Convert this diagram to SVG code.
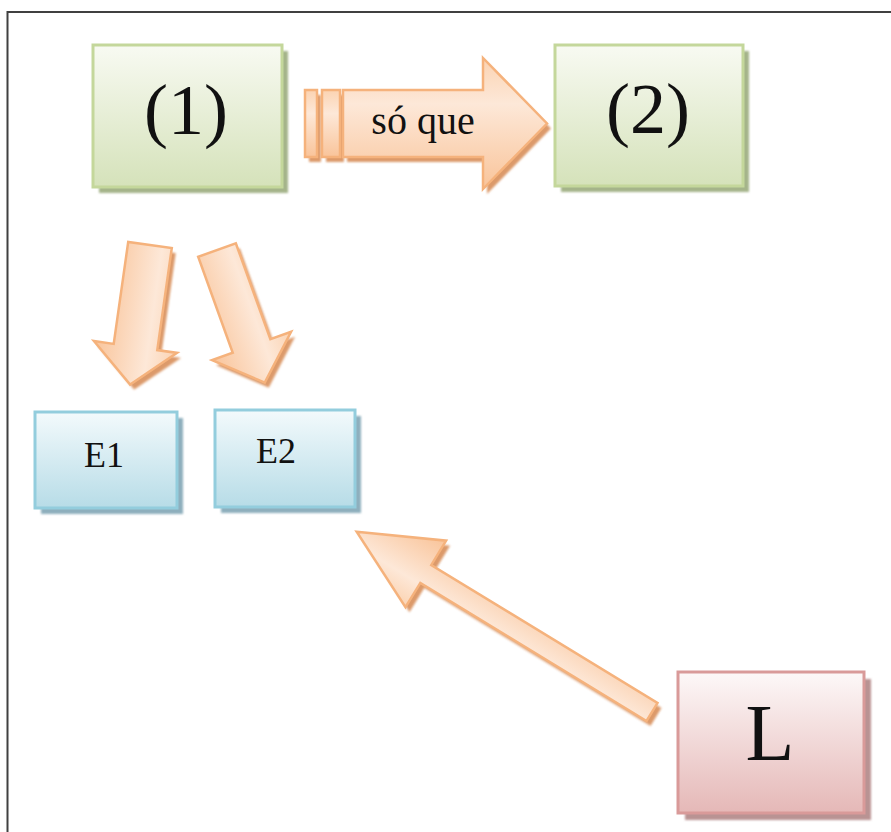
<svg xmlns="http://www.w3.org/2000/svg" xmlns:xlink="http://www.w3.org/1999/xlink" width="891" height="832" viewBox="0 0 891 832">
<style>
.txt{font-family:"Liberation Serif","Times New Roman",serif;fill:#111;text-anchor:middle}
.big{font-size:72px}
.mid{font-size:36px}
.lab{font-size:40px}
.ll{font-size:80px}
.g{fill:url(#gGreen);stroke:#c4d79b;stroke-width:3}
.b{fill:url(#gBlue);stroke:#93cddd;stroke-width:3}
.p{fill:url(#gPink);stroke:#d99a99;stroke-width:3}
.gs{fill:#a5b48a}
.bs{fill:#8eafbd}
.ps{fill:#b99393}
.sh{filter:url(#blur)}
.ar{fill:url(#gArrow);stroke:#f5b27c;stroke-width:2.5;stroke-linejoin:miter}
.as{fill:#dc9a6a;filter:url(#blur)}
</style>
<defs>
<linearGradient id="gGreen" x1="0" y1="0" x2="0" y2="1">
<stop offset="0" stop-color="#f8faf2"/>
<stop offset="1" stop-color="#d5e2ba"/>
</linearGradient>
<linearGradient id="gBlue" x1="0" y1="0" x2="0" y2="1">
<stop offset="0" stop-color="#f3fafc"/>
<stop offset="1" stop-color="#b7dce7"/>
</linearGradient>
<linearGradient id="gPink" x1="0" y1="0" x2="0" y2="1">
<stop offset="0" stop-color="#fdf8f8"/>
<stop offset="1" stop-color="#e5b8b7"/>
</linearGradient>
<linearGradient id="gArrow" x1="0" y1="0" x2="0" y2="1">
<stop offset="0" stop-color="#fbd3b2"/>
<stop offset="0.35" stop-color="#fde8d8"/>
<stop offset="1" stop-color="#f9c49a"/>
</linearGradient>
<filter id="blur" x="-10%" y="-10%" width="120%" height="120%">
<feGaussianBlur stdDeviation="1.2"/>
</filter>
<path id="pBig" d="M0,-33.5 H140 V-65.5 L204,0 L140,65.5 V33.5 H0 Z"/>
<path id="pStr1" d="M-38,-33.5 H-26 V33.5 H-38 Z"/>
<path id="pStr2" d="M-21,-33.5 H-3 V33.5 H-21 Z"/>
<path id="pDL" d="M0,-22 H103 V-42 L141,0 L103,42 V22 H0 Z"/>
<path id="pDR" d="M0,-20 H102 V-42 L141,0 L102,42 V20 H0 Z"/>
<path id="pL" d="M0,-10.5 H265 V-39 L346,0 L265,39 V10.5 H0 Z"/>
</defs>

<g id="frame" fill="none" stroke="#404040" stroke-width="2">
<path d="M7.5,832 V12 H891"/>
</g>

<g id="connectors">
<g id="arrow-so-que">
<g transform="translate(347,128.5)">
<use xlink:href="#pStr1" class="as"/>
<use xlink:href="#pStr2" class="as"/>
<use xlink:href="#pBig" class="as"/>
</g>
<g transform="translate(343,123.5)">
<use xlink:href="#pStr1" class="ar"/>
<use xlink:href="#pStr2" class="ar"/>
<use xlink:href="#pBig" class="ar"/>
</g>
<text class="txt lab" x="423" y="134">só que</text>
</g>
<g id="arrow-e1">
<use xlink:href="#pDL" class="as" transform="translate(154,250) rotate(98.1)"/>
<use xlink:href="#pDL" class="ar" transform="translate(150,245) rotate(98.1)"/>
</g>
<g id="arrow-e2">
<use xlink:href="#pDR" class="as" transform="translate(221,255) rotate(70.2)"/>
<use xlink:href="#pDR" class="ar" transform="translate(217,250) rotate(70.2)"/>
</g>
<g id="arrow-l">
<use xlink:href="#pL" class="as" transform="translate(656,717) rotate(211.4)"/>
<use xlink:href="#pL" class="ar" transform="translate(652,712) rotate(211.4)"/>
</g>
</g>

<g id="node1">
<rect class="gs sh" x="99" y="51" width="189" height="142"/>
<rect class="g" x="93" y="45" width="189" height="142"/>
<text class="txt big" x="186" y="134">(1)</text>
</g>
<g id="node2">
<rect class="gs sh" x="561" y="51" width="188" height="141"/>
<rect class="g" x="555" y="45" width="188" height="141"/>
<text class="txt big" x="648" y="133">(2)</text>
</g>
<g id="nodeE1">
<rect class="bs sh" x="41" y="418" width="142" height="96"/>
<rect class="b" x="35" y="412" width="142" height="96"/>
<text class="txt mid" x="104" y="467">E1</text>
</g>
<g id="nodeE2">
<rect class="bs sh" x="221" y="416" width="140" height="97"/>
<rect class="b" x="215" y="410" width="140" height="97"/>
<text class="txt mid" x="276" y="463">E2</text>
</g>
<g id="nodeL">
<rect class="ps sh" x="685" y="679" width="186" height="141"/>
<rect class="p" x="678" y="672" width="186" height="141"/>
<text class="txt ll" x="770" y="760">L</text>
</g>
</svg>
